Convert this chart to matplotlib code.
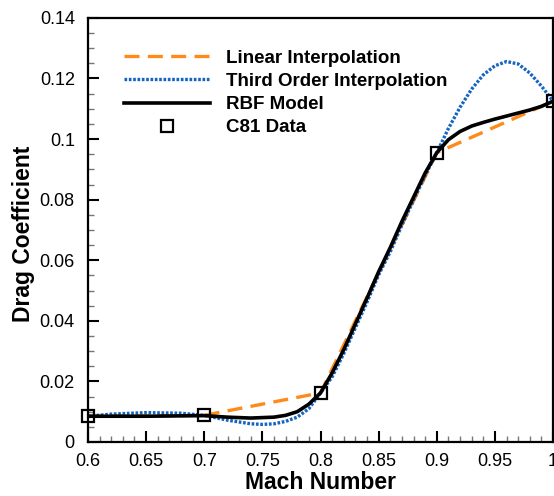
import matplotlib.pyplot as plt
from matplotlib.ticker import MultipleLocator

plt.rcParams['font.family'] = ['Liberation Sans', 'DejaVu Sans']

# C81 table points
mach_c81 = [0.6, 0.7, 0.8, 0.9, 1.0]
cd_c81 = [0.0085, 0.0088, 0.0162, 0.0955, 0.1125]

# third order interpolation curve
mach_cubic = [0.6, 0.62, 0.65, 0.68, 0.7, 0.72, 0.74, 0.75, 0.76, 0.77, 0.78, 0.79,
              0.8, 0.81, 0.82, 0.83, 0.84, 0.85, 0.86, 0.87, 0.88, 0.89, 0.9,
              0.91, 0.92, 0.93, 0.94, 0.95, 0.96, 0.97, 0.98, 0.99, 1.0]
cd_cubic = [0.0085, 0.0092, 0.0097, 0.0095, 0.0088, 0.0072, 0.0060, 0.0058, 0.0060,
            0.0068, 0.0082, 0.0110, 0.0162, 0.0215, 0.0292, 0.0377, 0.0462, 0.0552,
            0.0628, 0.0716, 0.0798, 0.0880, 0.0955, 0.1035, 0.1105, 0.1165, 0.1212,
            0.1242, 0.1256, 0.1248, 0.1218, 0.1175, 0.1125]

# RBF model curve
mach_rbf = [0.6, 0.65, 0.7, 0.72, 0.74, 0.76, 0.77, 0.78, 0.79, 0.8, 0.81, 0.82,
            0.83, 0.84, 0.85, 0.86, 0.87, 0.88, 0.89, 0.9, 0.91, 0.92, 0.93, 0.94,
            0.95, 0.96, 0.97, 0.98, 0.99, 1.0]
cd_rbf = [0.0085, 0.0085, 0.0087, 0.0082, 0.0079, 0.0082, 0.0088, 0.0100, 0.0125,
          0.0162, 0.0228, 0.0305, 0.0390, 0.0475, 0.0562, 0.0642, 0.0728, 0.0808,
          0.0888, 0.0955, 0.0998, 0.1025, 0.1043, 0.1055, 0.1066, 0.1076, 0.1086,
          0.1096, 0.1108, 0.1125]

x_ticks = [0.6, 0.65, 0.7, 0.75, 0.8, 0.85, 0.9, 0.95, 1.0]
x_labels = ['0.6', '0.65', '0.7', '0.75', '0.8', '0.85', '0.9', '0.95', '1']
y_ticks = [0, 0.02, 0.04, 0.06, 0.08, 0.1, 0.12, 0.14]
y_labels = ['0', '0.02', '0.04', '0.06', '0.08', '0.1', '0.12', '0.14']

fig = plt.figure(figsize=(5.54, 4.96), dpi=100)
ax = fig.add_axes([0.1588, 0.1089, 0.8395, 0.855])

ax.plot(mach_c81, cd_c81, color='#ff8a1a', lw=2.4, dashes=(4.5, 2.5),
        label='Linear Interpolation')
ax.plot(mach_cubic, cd_cubic, color='#1464c0', lw=2.4, dashes=(0.8, 0.5),
        label='Third Order Interpolation')
ax.plot(mach_rbf, cd_rbf, color='black', lw=2.6, label='RBF Model')
ax.plot(mach_c81, cd_c81, ls='none', marker='s', ms=9, mfc='none', mec='black',
        mew=1.6, label='C81 Data', clip_on=False, zorder=5)

ax.set_xlim(0.6, 1.0)
ax.set_ylim(0, 0.14)
ax.xaxis.set_minor_locator(MultipleLocator(0.01))
ax.yaxis.set_minor_locator(MultipleLocator(0.005))
ax.set_xticks(x_ticks)
ax.set_xticklabels(x_labels)
ax.set_yticks(y_ticks)
ax.set_yticklabels(y_labels)
ax.tick_params(which='major', direction='in', length=8, width=1.5, labelsize=13)
ax.tick_params(axis='x', which='major', pad=8)
ax.tick_params(axis='y', which='major', pad=9.5)
ax.tick_params(which='minor', direction='in', length=4, width=1, color='#777777')
for s in ax.spines.values():
    s.set_linewidth(1.6)

ax.set_xlabel('Mach Number', fontsize=16.5, fontweight='bold')
ax.set_ylabel('Drag Coefficient', fontsize=16.5, fontweight='bold')
ax.xaxis.set_label_coords(0.5, -0.068)
ax.yaxis.set_label_coords(-0.114, 0.49)

ax.legend(loc='upper left', bbox_to_anchor=(0.0774, 0.925), frameon=False,
          borderpad=0, borderaxespad=0,
          handlelength=4.6, handletextpad=0.85, labelspacing=0.32,
          prop={'size': 13.5, 'weight': 'bold'})

fig.savefig('out.png', dpi=100)
